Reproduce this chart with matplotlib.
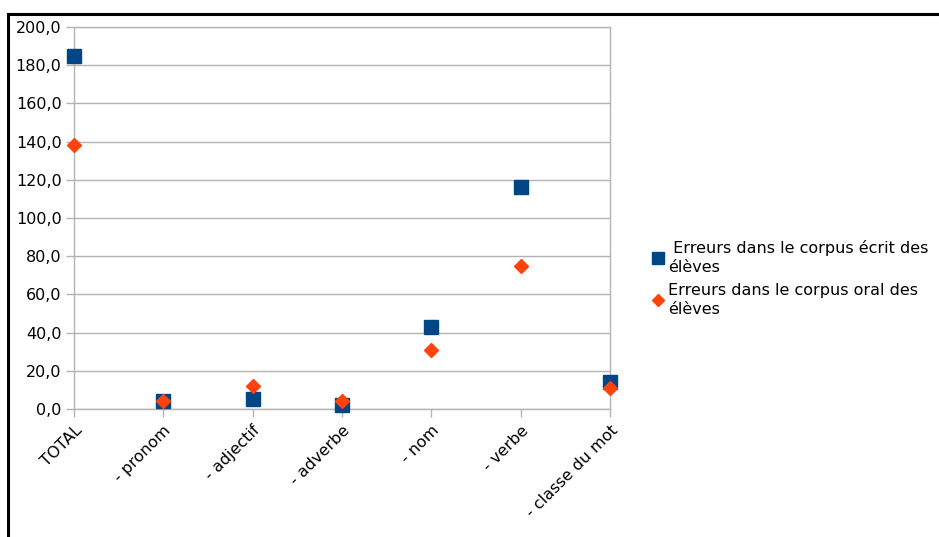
import matplotlib.pyplot as plt
from matplotlib.lines import Line2D
from matplotlib.ticker import FuncFormatter, MultipleLocator

plt.rcParams['font.family'] = ['DejaVu Sans']

categories = ['TOTAL', '- pronom', '- adjectif', '- adverbe', '- nom', '- verbe', '- classe du mot']
ecrit = [185, 4, 5, 2, 43, 116, 14]
oral = [138, 4, 12, 4, 31, 75, 11]

blue = '#004586'
orange = '#ff420e'
grey = '#b3b3b3'

fig = plt.figure(figsize=(9.39, 5.37), dpi=100)
ax = fig.add_axes([74 / 939, 1 - 409 / 537, (610 - 74) / 939, (409 - 27) / 537])

x = list(range(len(categories)))
ax.plot(x, ecrit, linestyle='none', marker='s', markersize=10, color=blue,
        clip_on=False, zorder=3)
ax.plot(x, oral, linestyle='none', marker='D', markersize=7.5, color=orange,
        clip_on=False, zorder=4)

ax.set_xlim(0, len(categories) - 1)
ax.set_ylim(0, 200)
ax.yaxis.set_major_locator(MultipleLocator(20))
ax.yaxis.set_major_formatter(FuncFormatter(lambda v, p: f'{v:.1f}'.replace('.', ',')))
ax.set_xticks(x)
ax.set_xticklabels(categories, rotation=45, ha='right', rotation_mode='anchor')

ax.grid(axis='y', color=grey, linewidth=1)
ax.set_axisbelow(True)
for s in ax.spines.values():
    s.set_color(grey)
    s.set_linewidth(1)
ax.tick_params(axis='both', colors=grey, labelcolor='black', labelsize=11.5,
               length=6, width=1)
ax.tick_params(axis='y', pad=3)
ax.tick_params(axis='x', pad=4)

handles = [
    Line2D([], [], linestyle='none', marker='s', markersize=8, color=blue),
    Line2D([], [], linestyle='none', marker='D', markersize=6.5, color=orange),
]
labels = [' Erreurs dans le corpus écrit des\nélèves', 'Erreurs dans le corpus oral des\nélèves']
leg = fig.legend(handles, labels, loc='upper left', bbox_to_anchor=(647 / 939, 1 - 234 / 537),
                 frameon=False, fontsize=11.5, handlelength=0.6, handletextpad=0.3,
                 labelspacing=0.5, borderaxespad=0)
for t in leg.get_texts():
    t.set_linespacing(1.3)

# black frame of the document page
fig.add_artist(Line2D([8 / 939, 8 / 939], [0, 1 - 14 / 537], color='black', linewidth=2.2))
fig.add_artist(Line2D([8 / 939, 1], [1 - 14 / 537, 1 - 14 / 537], color='black', linewidth=2.2))

fig.savefig('out.png', dpi=100)
